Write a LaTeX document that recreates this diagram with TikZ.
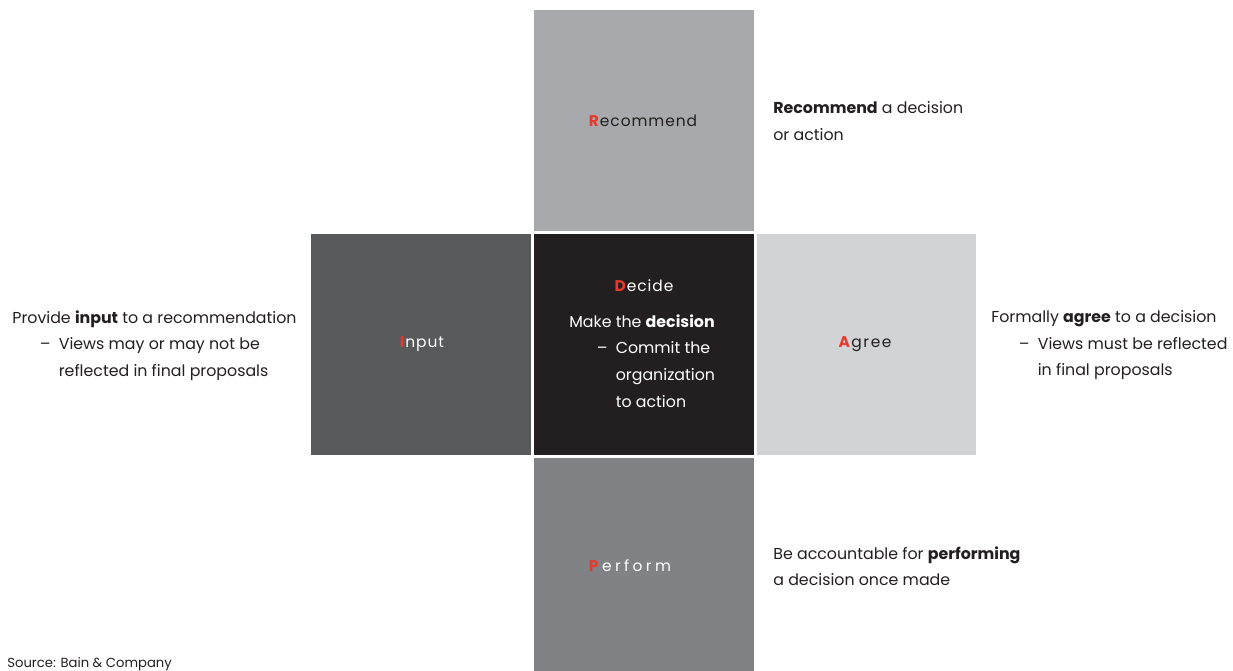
\documentclass[tikz,border=0pt]{standalone}
\usepackage{fontspec}
\setmainfont{Poppins}
\usetikzlibrary{positioning}

\definecolor{recgray}{HTML}{A7A9AC}
\definecolor{inputgray}{HTML}{58595B}
\definecolor{decideblack}{HTML}{231F20}
\definecolor{agreegray}{HTML}{D1D3D4}
\definecolor{performgray}{HTML}{808285}
\definecolor{bainred}{HTML}{E8392C}
\definecolor{textdark}{HTML}{231F20}

\newcommand{\subline}[1]{\hspace*{0.55cm}\makebox[0.38cm][l]{--}#1}
\newcommand{\contline}[1]{\hspace*{0.93cm}#1}
\newcommand{\firstred}[1]{\textcolor{bainred}{\textbf{#1}}}

\begin{document}
\begin{tikzpicture}[
    x=0.02cm, y=-0.02cm,
    box/.style={minimum width=4.4cm, minimum height=4.42cm, inner sep=0pt},
    box label/.style={font=\fontsize{8.8}{15}\selectfont\addfontfeature{LetterSpace=#1}},
    box label/.default=6,
    side text/.style={anchor=north west, align=left, inner sep=0pt, text=textdark, font=\fontsize{9}{15.2}\selectfont},
    source/.style={anchor=base west, inner sep=0pt, text=textdark, font=\fontsize{7.5}{9}\selectfont}
]
\useasboundingbox (0,0) rectangle (1233,670);

% Boxes
\node[box, fill=recgray] (recommend) at (644,120.5) {};
\node[box, fill=inputgray] (input) at (421,344.5) {};
\node[box, fill=decideblack] (decide) at (644,344.5) {};
\node[box, fill=agreegray] (agree) at (866.5,344.5) {};
\node[box, fill=performgray] (perform) at (644,568.5) {};

% Box labels
\node[box label, text=textdark] (recommend label) at (643,121) {\firstred{R}ecommend};
\node[box label, text=white] (input label) at (422,344) {\firstred{I}nput};
\node[box label=10, text=textdark] (agree label) at (865,344) {\firstred{A}gree};
\node[box label=22, text=white] (perform label) at (630,566) {\firstred{P}erform};
\node[box label, text=white] (decide label) at (644,286) {\firstred{D}ecide};

% Descriptions
\node[side text, text=white] (decide text) at (569,314) {Make the \textbf{decision}\\\subline{Commit the}\\\contline{organization}\\\contline{to action}};
\node[side text] (input text) at (12,310) {Provide \textbf{input} to a recommendation\\\subline{Views may or may not be}\\\contline{reflected in final proposals}};
\node[side text] (agree text) at (991,310) {Formally \textbf{agree} to a decision\\\subline{Views must be reflected}\\\contline{in final proposals}};
\node[side text] (recommend text) at (773,101) {\textbf{Recommend} a decision\\or action};
\node[side text] (perform text) at (773,546) {Be accountable for \textbf{performing}\\a decision once made};

% Source
\node[source] (source) at (7,667) {Source: Bain \& Company};

\end{tikzpicture}
\end{document}
